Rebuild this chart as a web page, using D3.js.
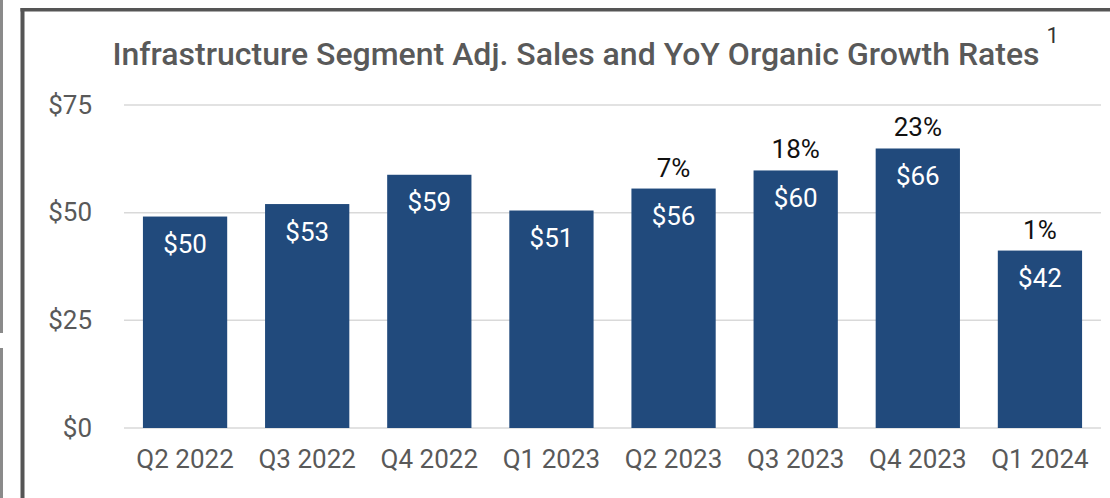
<!DOCTYPE html>
<html>
<head>
<meta charset="utf-8">
<script src="https://cdn.jsdelivr.net/npm/d3@7"></script>
<style>
  body { margin: 0; background: #fff; }
  svg text { font-family: Roboto, "Noto Sans", sans-serif; }
</style>
</head>
<body>
<div id="chart"></div>
<script>
// chart data
var quarters = ["Q2 2022", "Q3 2022", "Q4 2022", "Q1 2023", "Q2 2023", "Q3 2023", "Q4 2023", "Q1 2024"];
var sales = [49.1, 52.0, 58.8, 50.5, 55.6, 59.8, 64.9, 41.2];
var salesLabels = ["$50", "$53", "$59", "$51", "$56", "$60", "$66", "$42"];
var growthLabels = ["", "", "", "", "7%", "18%", "23%", "1%"];
var yTicks = [0, 25, 50, 75];

var W = 1110, H = 498;
var margin = { top: 105, right: 9, bottom: 70, left: 124 };
var width = W - margin.left - margin.right;
var height = 428 - margin.top;

var svg = d3.select("#chart").append("svg")
    .attr("width", W)
    .attr("height", H)
    .style("display", "block");

// page frame bits
svg.append("rect").attr("x", 0).attr("y", 0).attr("width", 3).attr("height", 333).attr("fill", "#8a8a8a");
svg.append("rect").attr("x", 0).attr("y", 348).attr("width", 3).attr("height", H - 348).attr("fill", "#8a8a8a");
svg.append("rect").attr("x", 20.5).attr("y", 8).attr("width", 4).attr("height", H - 8).attr("fill", "#555");
svg.append("rect").attr("x", 20.5).attr("y", 8).attr("width", W - 20.5).attr("height", 3.5).attr("fill", "#555");

var g = svg.append("g")
    .attr("transform", "translate(" + margin.left + "," + margin.top + ")");

var x = d3.scaleBand()
    .domain(quarters)
    .range([0, width])
    .paddingInner(0.31)
    .paddingOuter(0.155);

var y = d3.scaleLinear()
    .domain([0, 75])
    .range([height, 0]);

// gridlines
g.append("g")
    .selectAll("line")
    .data(yTicks)
    .enter().append("line")
    .attr("x1", 0)
    .attr("x2", width)
    .attr("y1", d => y(d))
    .attr("y2", d => y(d))
    .attr("stroke", "#d9d9d9")
    .attr("stroke-width", 1.5);

// y axis
var yAxis = d3.axisLeft(y)
    .tickValues(yTicks)
    .tickSize(0)
    .tickPadding(32)
    .tickFormat(d => "$" + d);

g.append("g")
    .attr("class", "y axis")
    .call(yAxis)
    .call(a => a.select(".domain").remove())
    .attr("font-family", null)
    .selectAll("text")
    .attr("fill", "#595959")
    .style("font-size", "26px");

// x axis
var xAxis = d3.axisBottom(x).tickSize(0).tickPadding(22);

g.append("g")
    .attr("class", "x axis")
    .attr("transform", "translate(0," + height + ")")
    .call(xAxis)
    .call(a => a.select(".domain").remove())
    .attr("font-family", null)
    .selectAll("text")
    .attr("fill", "#595959")
    .style("font-size", "26px");

// bars
g.selectAll(".bar")
    .data(sales)
    .enter().append("rect")
    .attr("class", "bar")
    .attr("x", (d, i) => x(quarters[i]))
    .attr("y", d => y(d))
    .attr("width", x.bandwidth())
    .attr("height", d => height - y(d))
    .attr("fill", "#214a7c");

// value labels inside bars
g.selectAll(".val")
    .data(sales)
    .enter().append("text")
    .attr("class", "val")
    .attr("x", (d, i) => x(quarters[i]) + x.bandwidth() / 2)
    .attr("y", d => y(d) + 36.5)
    .attr("text-anchor", "middle")
    .attr("fill", "#fff")
    .style("font-size", "26px")
    .text((d, i) => salesLabels[i]);

// growth labels above bars
g.selectAll(".growth")
    .data(sales)
    .enter().append("text")
    .attr("class", "growth")
    .attr("x", (d, i) => x(quarters[i]) + x.bandwidth() / 2)
    .attr("y", d => y(d) - 12)
    .attr("text-anchor", "middle")
    .attr("fill", "#111")
    .style("font-size", "26px")
    .text((d, i) => growthLabels[i]);

// title
var title = svg.append("text")
    .attr("x", 576)
    .attr("y", 65)
    .attr("text-anchor", "middle")
    .attr("fill", "#595959")
    .style("font-size", "32px")
    .style("font-weight", 500)
    .text("Infrastructure Segment Adj. Sales and YoY Organic Growth Rates");

var tb = title.node().getBBox();
svg.append("text")
    .attr("x", tb.x + tb.width + 7)
    .attr("y", 43)
    .attr("fill", "#333")
    .style("font-size", "22px")
    .text("1");
</script>
</body>
</html>
